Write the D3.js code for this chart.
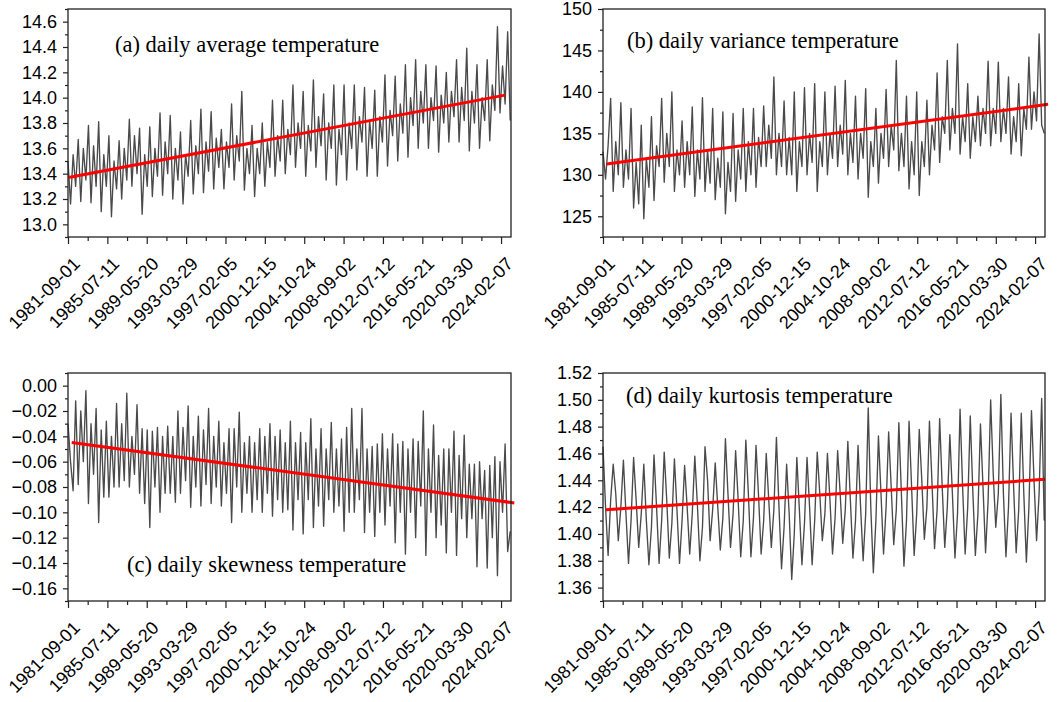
<!DOCTYPE html>
<html><head><meta charset="utf-8">
<script src="https://cdn.jsdelivr.net/npm/d3@7"></script>
<style>body{margin:0;background:#fff}</style>
</head><body>
<svg id="chart" width="1061" height="702"></svg>
<script>
// ---------- data ----------
const dateTicks = ["1981-09-01","1985-07-11","1989-05-20","1993-03-29","1997-02-05","2000-12-15",
  "2004-10-24","2008-09-02","2012-07-12","2016-05-21","2020-03-30","2024-02-07"];
const dataStart = "1981-09-01";
const dataEnd = "2024-12-31";
const axisEnd = "2025-01-28";

const titles = ["(a) daily average temperature","(b) daily variance temperature",
  "(c) daily skewness temperature","(d) daily kurtosis temperature"];

// quarter-yearly readings of the oscillating series (peaks / troughs)
const avgTemp = [
13.5,13.16,13.55,13.3, 13.67,13.18,13.6,13.35, 13.78,13.17,13.62,13.3, 13.81,13.1,13.55,13.3,
13.7,13.06,13.5,13.28, 13.66,13.2,13.6,13.35, 13.83,13.3,13.7,13.4, 13.76,13.08,13.55,13.3,
13.77,13.22,13.6,13.38, 13.88,13.23,13.65,13.4, 13.86,13.2,13.6,13.35, 13.73,13.16,13.55,13.38,
13.82,13.24,13.62,13.4, 13.91,13.25,13.65,13.42, 13.89,13.28,13.68,13.45, 13.75,13.28,13.65,13.45,
13.95,13.35,13.7,13.5, 14.05,13.27,13.6,13.4, 13.78,13.22,13.6,13.4, 13.8,13.3,13.65,13.45,
13.98,13.38,13.7,13.5, 13.98,13.4,13.75,13.55, 14.1,13.45,13.8,13.6, 14.05,13.38,13.78,13.58,
14.14,13.45,13.85,13.62, 14.03,13.35,13.8,13.6, 14.1,13.31,13.75,13.55, 14.1,13.35,13.8,13.6,
14.1,13.43,13.85,13.65, 14.08,13.38,13.82,13.6, 14.06,13.38,13.85,13.65, 14.18,13.46,13.9,13.7,
14.17,13.5,13.95,13.72, 14.26,13.53,14.0,13.78, 14.3,13.6,14.05,13.8, 14.26,13.6,14.0,13.82,
14.25,13.57,14.02,13.8, 14.2,13.65,14.05,13.85, 14.3,13.65,14.08,13.82, 14.39,13.58,14.05,13.8,
14.26,13.6,14.0,13.82, 14.3,13.66,14.1,13.9, 14.56,13.88,14.25,13.95, 14.52,13.82];

const varTemp = [
132.8,129.5,133.5,139.2, 128,134,130,138.7, 128.5,133,129.5,138, 126,131.5,126.5,136,
124.7,132,128.5,137, 126.9,133.5,131,139.2, 129.1,135,131,140, 128,133,130,136.5,
128.5,134,130,138.2, 127.4,133,129.5,139.3, 128,133,129,138, 127,132,128.5,137.6,
125.3,131.5,128,137.4, 126.8,133,129.5,138, 128,134,130,138, 128.5,134.5,131,138.3,
131,136,132,141.8, 130,135,131,138.9, 130,134.5,130,140, 128,134,131,140.5,
130,135,131.5,141, 128,134,131,140, 130,135,132,140.7, 131,136,132.5,141.4,
130,135,131.5,139.5, 129.5,135,132,140.4, 127.3,134,131,138, 129,135,132,140.3,
131,136,133,143.8, 130.5,135,131,139.5, 128.3,134,130,140, 127.5,134,131,139,
130,136,133,142.3, 131.5,137,135,143.8, 133,138,135,145.8, 132.5,137,134,141,
132,137,134,139.5, 133.5,138,135,143.7, 133.5,138,135,143.6, 134,138,135,141.8,
132.5,137,134,141, 132.3,138,135.5,144.2, 135.5,140,136.5,147, 136,135];

const skewTemp = [
-0.03,-0.06,-0.083,-0.012, -0.078,-0.02,-0.06,-0.004, -0.093,-0.03,-0.07,-0.018, -0.108,-0.035,-0.088,-0.028,
-0.088,-0.04,-0.08,-0.014, -0.08,-0.03,-0.075,-0.006, -0.08,-0.04,-0.07,-0.015, -0.085,-0.034,-0.093,-0.035,
-0.112,-0.036,-0.08,-0.033, -0.1,-0.04,-0.085,-0.032, -0.085,-0.04,-0.092,-0.02, -0.085,-0.033,-0.075,-0.016,
-0.096,-0.04,-0.08,-0.024, -0.095,-0.035,-0.078,-0.018, -0.093,-0.04,-0.08,-0.028, -0.095,-0.045,-0.085,-0.034,
-0.108,-0.034,-0.08,-0.021, -0.1,-0.045,-0.085,-0.04, -0.1,-0.045,-0.09,-0.034, -0.1,-0.04,-0.085,-0.03,
-0.103,-0.04,-0.09,-0.035, -0.1,-0.045,-0.098,-0.028, -0.114,-0.045,-0.09,-0.037, -0.117,-0.045,-0.09,-0.026,
-0.112,-0.05,-0.095,-0.034, -0.111,-0.05,-0.09,-0.029, -0.1,-0.05,-0.095,-0.042, -0.115,-0.033,-0.1,-0.018,
-0.1,-0.05,-0.09,-0.018, -0.116,-0.05,-0.1,-0.048, -0.119,-0.046,-0.1,-0.038, -0.11,-0.05,-0.095,-0.038,
-0.124,-0.046,-0.1,-0.044, -0.133,-0.05,-0.1,-0.042, -0.12,-0.044,-0.095,-0.02, -0.134,-0.05,-0.1,-0.031,
-0.12,-0.055,-0.11,-0.05, -0.132,-0.05,-0.1,-0.036, -0.134,-0.055,-0.105,-0.039, -0.12,-0.062,-0.105,-0.062,
-0.143,-0.06,-0.105,-0.067, -0.144,-0.063,-0.12,-0.056, -0.15,-0.06,-0.1,-0.046, -0.131,-0.115];

const kurtTemp = [
1.465,1.42,1.384,1.425, 1.452,1.43,1.395,1.42, 1.455,1.415,1.378,1.41, 1.457,1.425,1.39,1.415,
1.452,1.41,1.377,1.405, 1.459,1.42,1.378,1.41, 1.461,1.425,1.382,1.408, 1.456,1.418,1.378,1.41,
1.451,1.42,1.385,1.415, 1.458,1.422,1.38,1.405, 1.465,1.44,1.395,1.418, 1.453,1.42,1.388,1.412,
1.471,1.43,1.39,1.415, 1.462,1.425,1.383,1.41, 1.47,1.43,1.383,1.412, 1.466,1.428,1.385,1.41,
1.46,1.425,1.39,1.418, 1.472,1.42,1.374,1.405, 1.452,1.415,1.366,1.4, 1.457,1.418,1.377,1.408,
1.457,1.42,1.377,1.41, 1.461,1.43,1.395,1.415, 1.46,1.425,1.385,1.412, 1.462,1.43,1.393,1.418,
1.469,1.425,1.382,1.41, 1.466,1.42,1.38,1.415, 1.494,1.42,1.371,1.41, 1.473,1.43,1.385,1.42,
1.476,1.435,1.392,1.418, 1.483,1.43,1.376,1.41, 1.484,1.435,1.384,1.415, 1.478,1.44,1.396,1.42,
1.484,1.438,1.389,1.418, 1.486,1.435,1.39,1.42, 1.474,1.43,1.382,1.415, 1.493,1.435,1.385,1.42,
1.488,1.432,1.384,1.415, 1.482,1.435,1.386,1.425, 1.5,1.445,1.405,1.43, 1.504,1.43,1.383,1.42,
1.49,1.435,1.386,1.418, 1.49,1.43,1.379,1.42, 1.492,1.44,1.395,1.43, 1.501,1.41];

// linear trend lines: [date, value]
const avgTrend  = [["1981-09-20",13.37],["2024-06-27",14.02]];
const varTrend  = [["1982-01-12",131.3],["2025-05-20",138.5]];
const skewTrend = [["1982-01-11",-0.0448],["2025-05-25",-0.0926]];
const kurtTrend = [["1981-12-17",1.418],["2025-01-28",1.4407]];

// y axis ticks
const avgTicks  = [13.0,13.2,13.4,13.6,13.8,14.0,14.2,14.4,14.6];
const varTicks  = [125,130,135,140,145,150];
const skewTicks = [-0.16,-0.14,-0.12,-0.10,-0.08,-0.06,-0.04,-0.02,0.00];
const kurtTicks = [1.36,1.38,1.40,1.42,1.44,1.46,1.48,1.50,1.52];
const avgDomain  = [12.9,14.7];
const varDomain  = [122.5,150];
const skewDomain = [-0.17,0.01];
const kurtDomain = [1.35,1.52];

// ---------- drawing ----------
const parse = d3.utcParse("%Y-%m-%d");
const fmtDate = d3.utcFormat("%Y-%m-%d");
const svg = d3.select("#chart");
svg.append("rect").attr("width",1061).attr("height",702).attr("fill","#fff");

const minus = s => s.replace("-", "\u2212");

const panels = [
  {vals: avgTemp, trend: avgTrend, dom: avgDomain, ticks: avgTicks, fmt: d => d3.format(".1f")(d),
   box: [68,511,9,237], title: titles[0], tx: 115, ty: 52},
  {vals: varTemp, trend: varTrend, dom: varDomain, ticks: varTicks, fmt: d => d3.format("d")(d),
   box: [603,1045,9,237], title: titles[1], tx: 627, ty: 48},
  {vals: skewTemp, trend: skewTrend, dom: skewDomain, ticks: skewTicks, fmt: d => minus(d3.format(".2f")(d)),
   box: [68,511,373,601], title: titles[2], tx: 127, ty: 572},
  {vals: kurtTemp, trend: kurtTrend, dom: kurtDomain, ticks: kurtTicks, fmt: d => d3.format(".2f")(d),
   box: [603,1045,373,601], title: titles[3], tx: 626, ty: 403}
];

const t0 = parse(dataStart), t1 = parse(dataEnd);
const majorDates = dateTicks.map(parse);
const minorDates = majorDates.slice(0,-1).map((d,i) => new Date((+d + +majorDates[i+1])/2));

panels.forEach(p => {
  const [x0,x1,y0,y1] = p.box;
  const x = d3.scaleUtc().domain([parse(dataStart), parse(axisEnd)]).range([x0,x1]);
  const y = d3.scaleLinear().domain(p.dom).range([y1,y0]);
  const idx = d3.scaleLinear().domain([0,p.vals.length-1]).range([+t0,+t1]);
  const g = svg.append("g");

  // series
  const line = d3.line().x((d,i) => x(new Date(idx(i)))).y(d => y(d));
  g.append("path").datum(p.vals).attr("d", line)
    .attr("fill","none").attr("stroke","#4a4a4a").attr("stroke-width",1.35).attr("stroke-linejoin","round");

  // trend
  const tl = d3.line().x(d => x(parse(d[0]))).y(d => y(d[1]));
  g.append("path").datum(p.trend).attr("d", tl)
    .attr("fill","none").attr("stroke","#ff0000").attr("stroke-width",3);

  // frame
  g.append("rect").attr("x",x0).attr("y",y0).attr("width",x1-x0).attr("height",y1-y0)
    .attr("fill","none").attr("stroke","#222").attr("stroke-width",1.3);

  // y axis
  const yMinor = [];
  for (let i = 0; i < p.ticks.length-1; i++) yMinor.push((p.ticks[i]+p.ticks[i+1])/2);
  const step = p.ticks[1]-p.ticks[0];
  yMinor.push(p.ticks[0]-step/2); yMinor.push(p.ticks[p.ticks.length-1]+step/2);
  const yMin = yMinor.filter(v => v >= p.dom[0]-1e-9 && v <= p.dom[1]+1e-9);
  const ya = g.append("g").attr("transform",`translate(${x0},0)`)
    .call(d3.axisLeft(y).tickValues(p.ticks).tickSize(5).tickPadding(6).tickFormat(p.fmt));
  g.append("g").attr("transform",`translate(${x0},0)`)
    .call(d3.axisLeft(y).tickValues(yMin).tickSize(3).tickFormat(""));

  // x axis
  g.append("g").attr("transform",`translate(0,${y1})`)
    .call(d3.axisBottom(x).tickValues(majorDates).tickSize(7).tickFormat(""));
  g.append("g").attr("transform",`translate(0,${y1})`)
    .call(d3.axisBottom(x).tickValues(minorDates).tickSize(4).tickFormat(""));
  g.selectAll(".domain").remove();
  g.selectAll(".tick line").attr("stroke","#222").attr("stroke-width",1.2);
  ya.selectAll("text").attr("font-family","'Liberation Sans', Arial, sans-serif")
    .attr("font-size",18).attr("fill","#000");

  g.selectAll(".xlab").data(majorDates).join("text")
    .attr("class","xlab")
    .attr("transform", d => `translate(${x(d)+13},${y1+28}) rotate(-45)`)
    .attr("text-anchor","end")
    .attr("font-family","'Liberation Sans', Arial, sans-serif")
    .attr("font-size",18).attr("fill","#000")
    .text(d => fmtDate(d));

  g.append("text").attr("x",p.tx).attr("y",p.ty)
    .attr("font-family","'Liberation Serif','Times New Roman',serif")
    .attr("font-size",22.5).attr("fill","#000").text(p.title);
});
</script>
</body></html>
